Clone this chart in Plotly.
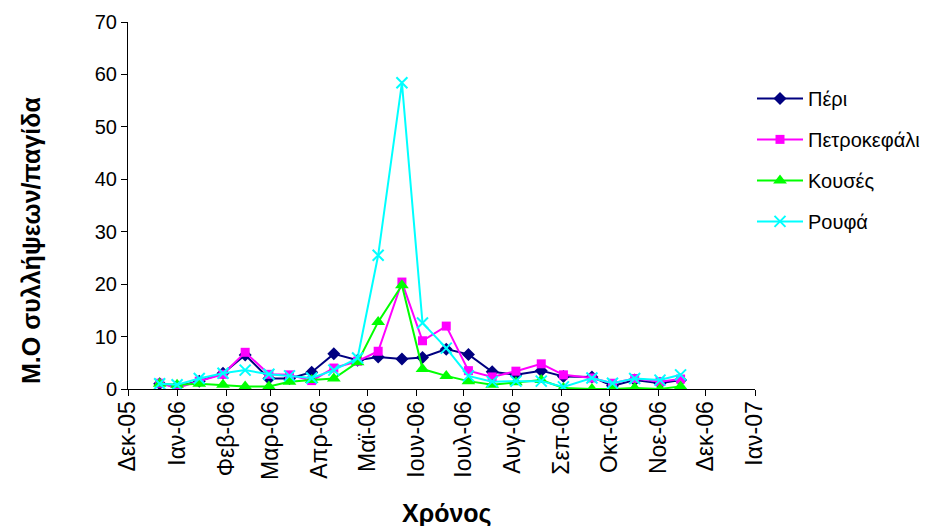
import plotly.graph_objects as go

dates = ["2005-12-21", "2006-01-01", "2006-01-15", "2006-01-30", "2006-02-13", "2006-02-28",
         "2006-03-13", "2006-03-27", "2006-04-10", "2006-04-25", "2006-05-08", "2006-05-23",
         "2006-06-05", "2006-06-20", "2006-07-04", "2006-07-19", "2006-08-03", "2006-08-19",
         "2006-09-02", "2006-09-20", "2006-10-03", "2006-10-17", "2006-11-02", "2006-11-15"]

peri = [1.0, 0.5, 1.5, 3.0, 6.5, 2.0, 2.0, 3.2, 6.7, 5.5, 6.1, 5.7,
        6.0, 7.6, 6.6, 3.3, 2.7, 3.5, 2.4, 2.3, 0.6, 1.7, 1.1, 1.7]
petrokefali = [1.1, 0.2, 1.5, 2.8, 7.0, 2.8, 2.7, 1.6, 4.0, 5.3, 7.2, 20.4,
               9.2, 12.0, 3.5, 2.3, 3.4, 4.8, 2.7, 2.1, 1.1, 2.0, 1.4, 1.9]
kouses = [1.0, 0.8, 1.0, 0.8, 0.5, 0.5, 1.4, 1.7, 2.0, 5.1, 12.8, 19.8,
          3.8, 2.5, 1.5, 0.8, 1.3, 1.7, 0.2, 0.0, 0.0, 0.2, 0.0, 0.5]
roufa = [1.0, 0.8, 2.0, 3.0, 3.6, 2.8, 2.5, 2.1, 3.6, 5.9, 25.5, 58.4,
         12.6, 7.8, 2.5, 1.4, 1.5, 1.5, 0.4, 2.1, 1.1, 2.0, 1.7, 2.7]

tick_dates = ["2005-12-01", "2006-01-01", "2006-02-01", "2006-03-01", "2006-04-01", "2006-05-01",
              "2006-06-01", "2006-07-01", "2006-08-01", "2006-09-01", "2006-10-01", "2006-11-01",
              "2006-12-01", "2007-01-01"]
tick_text = ["Δεκ-05", "Ιαν-06", "Φεβ-06", "Μαρ-06", "Απρ-06", "Μαϊ-06", "Ιουν-06",
             "Ιουλ-06", "Αυγ-06", "Σεπ-06", "Οκτ-06", "Νοε-06", "Δεκ-06", "Ιαν-07"]
y_ticks = [0, 10, 20, 30, 40, 50, 60, 70]

series = [
    ("Πέρι", peri, "#000080", dict(symbol="diamond", size=10)),
    ("Πετροκεφάλι", petrokefali, "#FF00FF", dict(symbol="square", size=9)),
    ("Κουσές", kouses, "#00FF00", dict(symbol="triangle-up", size=12)),
    ("Ρουφά", roufa, "#00FFFF", dict(symbol="x-thin", size=11, line=dict(width=2, color="#00FFFF"))),
]

FONT = "Arial, 'Liberation Sans', sans-serif"

fig = go.Figure()
for i, (name, vals, col, mk) in enumerate(series):
    fig.add_trace(go.Scatter(
        x=dates, y=vals, name=name, mode="lines+markers",
        line=dict(color=col, width=2),
        marker=dict(color=col, **mk),
        legendgroup=f"g{i}",
    ))

fig.update_layout(
    width=938, height=526, autosize=False,
    margin=dict(l=128, r=183, t=22, b=137),
    paper_bgcolor="white", plot_bgcolor="white",
    font=dict(family=FONT, size=20, color="black"),
    showlegend=True,
    legend=dict(
        xref="paper", yref="paper", x=1 - 3 / 627, y=0.845,
        xanchor="left", yanchor="top",
        font=dict(family=FONT, size=20, color="black"),
        tracegroupgap=12, itemwidth=46,
        borderwidth=0, bgcolor="rgba(0,0,0,0)",
    ),
    xaxis=dict(
        type="date", range=["2005-12-01", "2007-01-01"],
        tickmode="array", tickvals=tick_dates, ticktext=tick_text,
        tickangle=-90, ticks="outside", ticklen=6, tickcolor="black",
        showline=True, linecolor="black", linewidth=1,
        showgrid=False, zeroline=False, automargin=False,
        ticklabelstandoff=-4,
        tickfont=dict(family=FONT, size=23, color="black"),
    ),
    yaxis=dict(
        range=[0, 70], tickmode="array", tickvals=y_ticks,
        ticks="outside", ticklen=6, tickcolor="black",
        showline=True, linecolor="black", linewidth=1,
        showgrid=False, zeroline=False, automargin=False,
        tickfont=dict(family=FONT, size=20, color="black"),
    ),
    annotations=[
        dict(text="<b>Μ.Ο συλλήψεων/παγίδα</b>", xref="paper", yref="paper",
             x=(31 - 128) / 627, y=(389 - 240) / 367, textangle=-90, showarrow=False,
             xanchor="center", yanchor="middle",
             font=dict(family=FONT, size=25, color="black")),
        dict(text="<b>Χρόνος</b>", xref="paper", yref="paper",
             x=(447 - 128) / 627, y=(389 - 513) / 367, showarrow=False,
             xanchor="center", yanchor="middle",
             font=dict(family=FONT, size=25, color="black")),
    ],
)

fig.write_html("out.html")
